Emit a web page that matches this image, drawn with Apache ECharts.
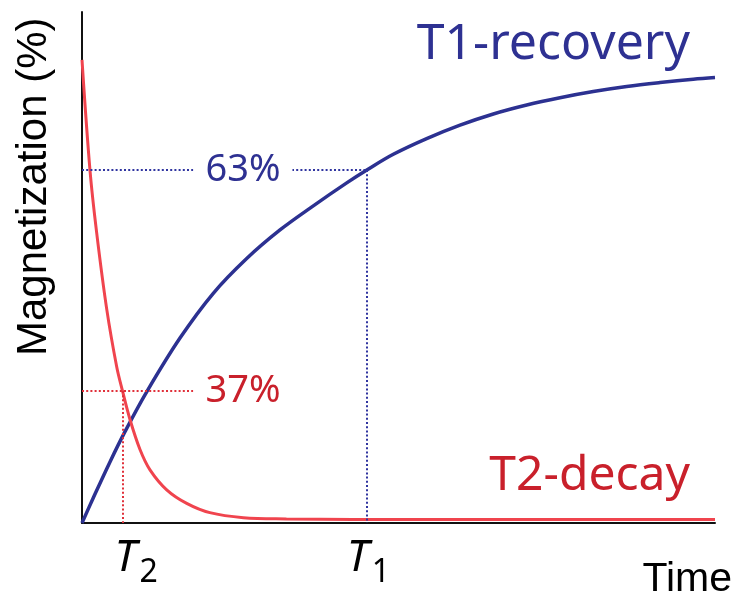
<!DOCTYPE html>
<html>
<head>
<meta charset="utf-8">
<script src="https://cdn.jsdelivr.net/npm/echarts@6/dist/echarts.min.js"></script>
<style>
  html, body { margin: 0; padding: 0; background: #ffffff; }
  #chart { width: 734px; height: 595px; }
</style>
</head>
<body>
<div id="chart"></div>
<script>
// T1 recovery curve (time, % magnetization)
const recoveryTime  = [0, 1.79, 4.42, 6.79, 10.22, 15.48, 20.74, 26.02, 31.28, 36.54, 41.82, 45.0, 49.18, 54.45, 59.72, 64.98, 70.25, 75.51, 80.77, 86.05, 91.31, 96.57, 100];
const recoveryValue = [0, 4.5, 10.9, 16.3, 23.4, 33.0, 41.0, 47.2, 52.3, 56.6, 60.7, 63.0, 65.8, 68.6, 71.0, 73.0, 74.6, 75.9, 77.0, 77.9, 78.6, 79.2, 79.5];

// T2 decay curve (time, % magnetization)
const decayTime  = [0, 1.26, 2.32, 3.90, 5.48, 6.4, 7.58, 9.16, 10.74, 13.38, 16.54, 20.2, 25.5, 32.3, 42.8, 53.4, 70, 85, 100];
const decayValue = [129.8, 98.9, 81.3, 60.0, 43.8, 37.0, 29.0, 20.6, 14.9, 9.3, 5.5, 2.9, 1.5, 1.15, 1.0, 1.0, 1.0, 1.0, 1.0];

// characteristic times and the levels reached at them
const T1 = 45.0;
const T2 = 6.4;
const recoveryLevel = 63;   // % reached at T1
const decayLevel = 37;      // % left at T2
const guideLabelTime = 17.6; // where the level labels sit along the guides

const BLUE = '#2e3192';
const BLUE_LINE = '#2c3191';
const RED_LINE = '#f0444e';
const RED_TEXT = '#c9202b';
const ANNOT_FONT = '"Noto Sans", "Open Sans", sans-serif';
const AXIS_FONT = '"Liberation Sans", Arial, sans-serif';

const pairs = (xs, ys) => xs.map((x, i) => [x, ys[i]]);

const chart = echarts.init(document.getElementById('chart'), null, { renderer: 'canvas' });

const dotted = (color) => ({ color: color, width: 2, type: [2, 2.2] });

chart.setOption({
  animation: false,
  backgroundColor: '#ffffff',
  grid: { left: 82, right: 19, top: 12, bottom: 72, containLabel: false, outerBoundsMode: 'none' },
  xAxis: {
    type: 'value', min: 0, max: 100,
    axisLine: { show: true, onZero: false, lineStyle: { color: '#111111', width: 2 } },
    axisTick: { show: false }, axisLabel: { show: false }, splitLine: { show: false }
  },
  yAxis: [
    {
      type: 'value', min: 0, max: 91.2,
      axisLine: { show: true, onZero: false, lineStyle: { color: '#111111', width: 2 } },
      axisTick: { show: false }, axisLabel: { show: false }, splitLine: { show: false }
    },
    {
      type: 'value', min: 0, max: 143.2, show: false, splitLine: { show: false }
    }
  ],
  series: [
    {
      name: 'T1-recovery', type: 'line', yAxisIndex: 0,
      data: pairs(recoveryTime, recoveryValue),
      showSymbol: false, symbol: 'none', smooth: 0.35,
      lineStyle: { color: BLUE_LINE, width: 3.5 },
      z: 3,
      markLine: {
        silent: true, symbol: 'none', label: { show: false },
        lineStyle: dotted('#3035a0'),
        data: [
          [{ coord: [0, recoveryLevel] }, { coord: [T1, recoveryLevel] }],
          [{ coord: [T1, recoveryLevel] }, { coord: [T1, 0] }]
        ]
      }
    },
    {
      name: 'T2-decay', type: 'line', yAxisIndex: 1,
      data: pairs(decayTime, decayValue),
      showSymbol: false, symbol: 'none', smooth: 0.35,
      lineStyle: { color: RED_LINE, width: 3 },
      z: 4,
      markLine: {
        silent: true, symbol: 'none', label: { show: false },
        lineStyle: dotted('#e0303a'),
        data: [
          [{ coord: [0, decayLevel] }, { coord: [guideLabelTime, decayLevel] }],
          [{ coord: [T2, decayLevel] }, { coord: [T2, 0] }]
        ]
      }
    }
  ]
});

// annotations placed through the chart's own scales
const px = (seriesIndex, x, y) => chart.convertToPixel({ seriesIndex: seriesIndex }, [x, y]);
const p63 = px(0, guideLabelTime, recoveryLevel);
const p37 = px(1, guideLabelTime, decayLevel);
const pT1 = px(0, T1, 0);
const pT2 = px(0, T2, 0);

function label(x, y, text, opts) {
  return {
    type: 'text', x: x, y: y, z: 100, silent: true,
    style: Object.assign({ text: text, fill: '#000', font: '40px ' + ANNOT_FONT, align: 'left', verticalAlign: 'middle' }, opts)
  };
}

chart.setOption({
  graphic: [
    label(p63[0], p63[1], recoveryLevel + '%', {
      fill: BLUE, font: '38px ' + ANNOT_FONT, backgroundColor: '#ffffff', padding: [0, 12, 0, 12]
    }),
    label(p37[0], p37[1], decayLevel + '%', {
      fill: RED_TEXT, font: '38px ' + ANNOT_FONT, backgroundColor: '#ffffff', padding: [0, 12, 0, 12]
    }),
    label(690, 45, 'T1-recovery', { fill: BLUE, font: '50px ' + ANNOT_FONT, align: 'right' }),
    label(690, 476, 'T2-decay', { fill: RED_TEXT, font: '48px ' + ANNOT_FONT, align: 'right' }),
    // time markers under the axis
    label(pT2[0] - 8, 558, 'T', { font: 'italic 44px ' + ANNOT_FONT }),
    label(pT2[0] + 17, 573, '2', { font: '32px ' + ANNOT_FONT }),
    label(pT1[0] - 20, 558, 'T', { font: 'italic 44px ' + ANNOT_FONT }),
    label(pT1[0] + 5, 573, '1', { font: '32px ' + ANNOT_FONT }),
    // axis titles
    label(732, 580, 'Time', { font: '41px ' + AXIS_FONT, align: 'right' }),
    {
      type: 'text', x: 34, y: 356, rotation: Math.PI / 2, z: 100, silent: true,
      style: { text: 'Magnetization (%)', fill: '#000', font: '42px ' + AXIS_FONT, align: 'left', verticalAlign: 'middle' }
    }
  ]
});
</script>
</body>
</html>
